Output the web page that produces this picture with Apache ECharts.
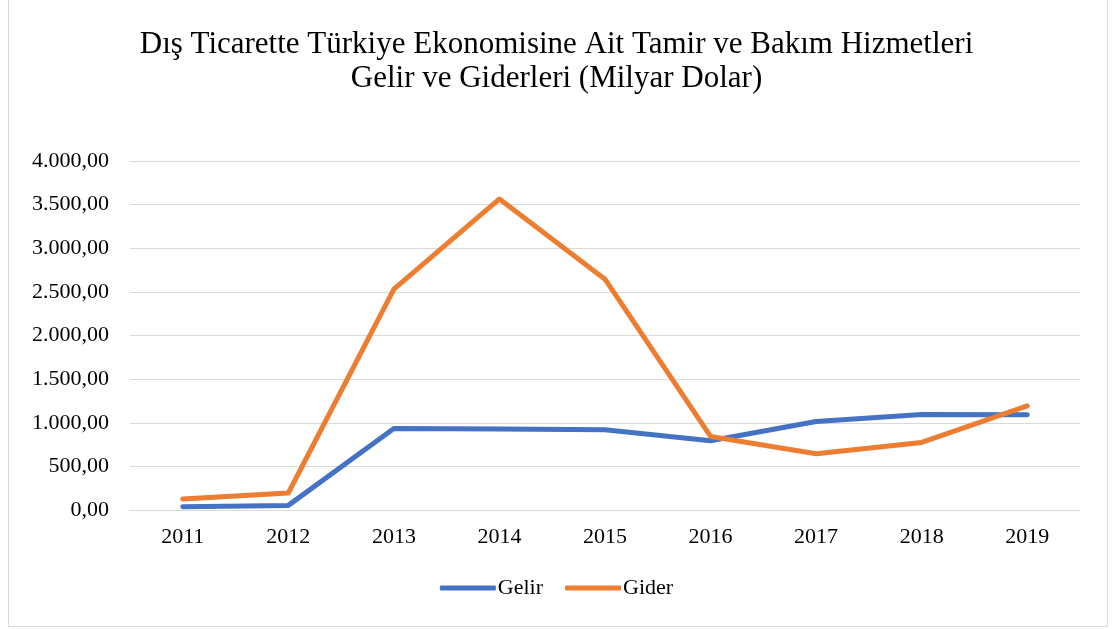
<!DOCTYPE html>
<html>
<head>
<meta charset="utf-8">
<script src="https://cdn.jsdelivr.net/npm/echarts@6/dist/echarts.min.js"></script>
<style>
  html, body { margin: 0; padding: 0; background: #fff; }
  #frame { position: absolute; left: 8px; top: -1px; width: 1098px; height: 626px; border: 1px solid #d9d9d9; }
  #chart { position: absolute; left: 0; top: 0; width: 1113px; height: 629px; }
</style>
</head>
<body>
<div id="frame"></div>
<div id="chart"></div>
<script>
  // veriler
  const years = ["2011", "2012", "2013", "2014", "2015", "2016", "2017", "2018", "2019"];
  const gelir = [38, 53, 934, 928, 920, 794, 1015, 1095, 1092];
  const gider = [126, 195, 2531, 3565, 2645, 843, 645, 774, 1194];
  const yTicks = [0, 500, 1000, 1500, 2000, 2500, 3000, 3500, 4000];

  const serif = "'Liberation Serif', 'Times New Roman', serif";

  // Türkçe sayı biçimi: 4.000,00
  const fmt = (v) => {
    const parts = v.toFixed(2).split(".");
    parts[0] = parts[0].replace(/\B(?=(\d{3})+(?!\d))/g, ".");
    return parts.join(",");
  };

  const chart = echarts.init(document.getElementById("chart"));
  chart.setOption({
    animation: false,
    title: {
      text: "Dış Ticarette Türkiye Ekonomisine Ait Tamir ve Bakım Hizmetleri\nGelir ve Giderleri (Milyar Dolar)",
      left: "center",
      top: 23,
      textStyle: { fontFamily: serif, fontSize: 31, fontWeight: "normal", color: "#000", lineHeight: 34 },
    },
    legend: {
      bottom: 25,
      left: "center",
      itemWidth: 56,
      itemHeight: 5,
      itemGap: 22,
      icon: "roundRect",
      textStyle: { fontFamily: serif, fontSize: 22, color: "#000", padding: [0, 0, 0, -3] },
      data: ["Gelir", "Gider"],
    },
    grid: { left: 130, right: 33, top: 161, bottom: 119, containLabel: false },
    xAxis: {
      type: "category",
      data: years,
      boundaryGap: true,
      axisLine: { lineStyle: { color: "#d9d9d9", width: 1 } },
      axisTick: { show: false },
      axisLabel: { fontFamily: serif, fontSize: 22, color: "#000", margin: 16 },
    },
    yAxis: {
      type: "value",
      min: yTicks[0],
      max: yTicks[yTicks.length - 1],
      interval: 500,
      axisLine: { show: false },
      axisTick: { show: false },
      splitLine: { lineStyle: { color: "#d9d9d9", width: 1 } },
      axisLabel: { fontFamily: serif, fontSize: 22, color: "#000", margin: 21, formatter: fmt },
    },
    series: [
      {
        name: "Gelir",
        type: "line",
        data: gelir,
        symbol: "none",
        color: "#4472C4",
        lineStyle: { width: 5, cap: "round", join: "round" },
      },
      {
        name: "Gider",
        type: "line",
        data: gider,
        symbol: "none",
        color: "#ED7D31",
        lineStyle: { width: 5, cap: "round", join: "round" },
      },
    ],
  });
</script>
</body>
</html>
